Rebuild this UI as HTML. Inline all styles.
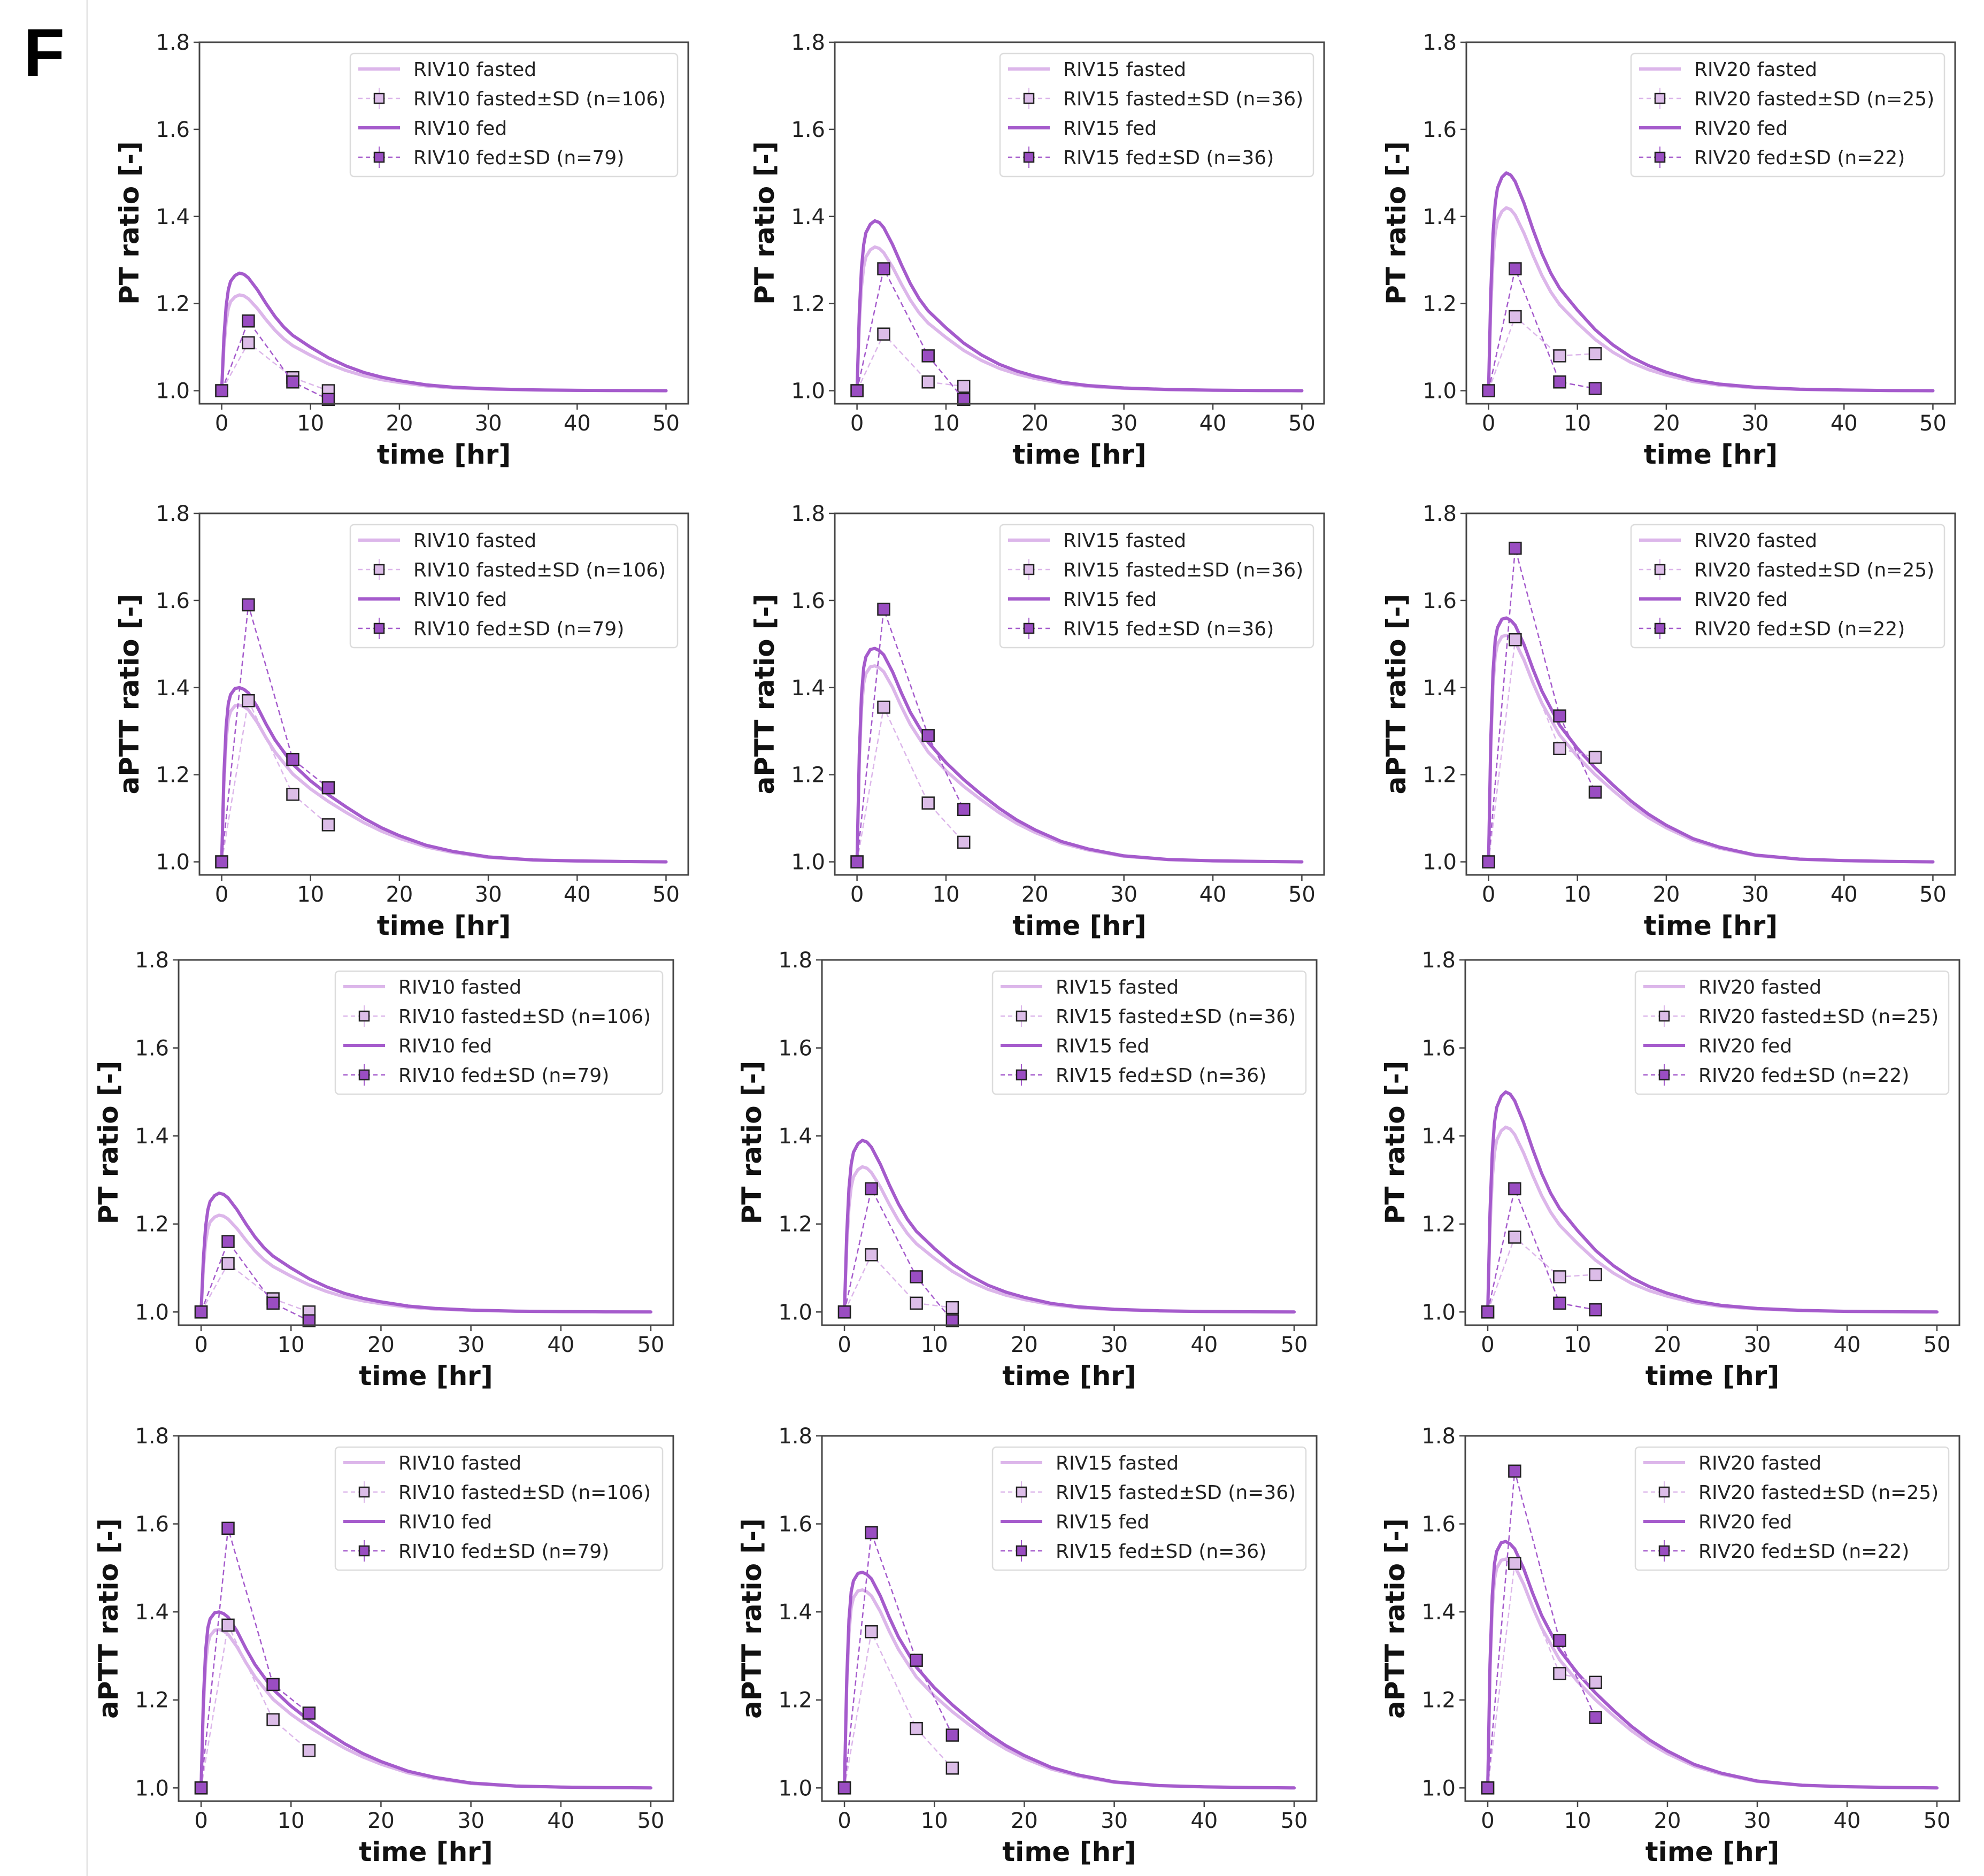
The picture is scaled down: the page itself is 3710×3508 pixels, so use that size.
<!DOCTYPE html>
<html><head><meta charset="utf-8">
<style>
html,body{margin:0;padding:0;background:#fff;}
svg{display:block;font-family:"DejaVu Sans","Liberation Sans",sans-serif;}
</style></head>
<body>
<svg id="fig" width="3710" height="3508" viewBox="0 0 3710 3508" xmlns="http://www.w3.org/2000/svg">
<rect x="0" y="0" width="3710" height="3508" fill="#fff"/>
<line x1="163" y1="0" x2="163" y2="3508" stroke="#e4e4e4" stroke-width="3"/>
<text x="44" y="142" font-size="126" font-weight="bold" fill="#000" font-family="Liberation Sans, sans-serif">F</text>
</svg>
<script>
// ---- data ----
const obsTimes = [0, 3, 8, 12];
const ptFasted10 = [1.0, 1.11, 1.03, 1.0];
const ptFed10 = [1.0, 1.16, 1.02, 0.98];
const ptFasted15 = [1.0, 1.13, 1.02, 1.01];
const ptFed15 = [1.0, 1.28, 1.08, 0.98];
const ptFasted20 = [1.0, 1.17, 1.08, 1.085];
const ptFed20 = [1.0, 1.28, 1.02, 1.005];
const apttFasted10 = [1.0, 1.37, 1.155, 1.085];
const apttFed10 = [1.0, 1.59, 1.235, 1.17];
const apttFasted15 = [1.0, 1.355, 1.135, 1.045];
const apttFed15 = [1.0, 1.58, 1.29, 1.12];
const apttFasted20 = [1.0, 1.51, 1.26, 1.24];
const apttFed20 = [1.0, 1.72, 1.335, 1.16];
const curveTimes = [0,0.25,0.5,0.75,1,1.5,2,2.5,3,4,5,6,7,8,10,12,14,16,18,20,23,26,30,35,40,45,50];
const ptShape = [0,0.45,0.72,0.86,0.93,0.98,1.0,0.99,0.96,0.86,0.74,0.63,0.54,0.47,0.37,0.28,0.21,0.155,0.115,0.085,0.05,0.03,0.016,0.007,0.003,0.001,0];
const apttShape = [0,0.5,0.78,0.91,0.96,0.995,1.0,0.99,0.97,0.89,0.79,0.70,0.63,0.56,0.465,0.385,0.315,0.25,0.195,0.15,0.095,0.06,0.028,0.011,0.005,0.002,0];
const ptPeakFasted = [1.22, 1.33, 1.42];
const ptPeakFed = [1.27, 1.39, 1.50];
const apttPeakFasted = [1.36, 1.45, 1.52];
const apttPeakFed = [1.40, 1.49, 1.56];
const doses = ["RIV10", "RIV15", "RIV20"];
const nFasted = [106, 36, 25];
const nFed = [79, 36, 22];
const xTicks = [0, 10, 20, 30, 40, 50];
const yTicks = [1.0, 1.2, 1.4, 1.6, 1.8];
const ptObs = [[ptFasted10, ptFed10], [ptFasted15, ptFed15], [ptFasted20, ptFed20]];
const apttObs = [[apttFasted10, apttFed10], [apttFasted15, apttFed15], [apttFasted20, apttFed20]];

// ---- layout ----
const NS = "http://www.w3.org/2000/svg";
const svg = document.getElementById("fig");
const rowGeom = [{top:79,h:676},{top:960,h:676},{top:1795,h:683},{top:2685,h:683}];
const colGeomA = [[373,914],[1561,915],[2742,914]];
const colGeomB = [[334,925],[1537,925],[2740,924]];
const FAST = "#dcb6ea", FED = "#a55bcc", FASTM = "#dcbde8", FEDM = "#9a4dc2";

function mk(tag, attrs, parent) {
  const e = document.createElementNS(NS, tag);
  for (const k in attrs) e.setAttribute(k, attrs[k]);
  (parent || svg).appendChild(e);
  return e;
}

for (let r = 0; r < 4; r++) {
  const isPT = (r % 2 === 0);
  const cols = r < 2 ? colGeomA : colGeomB;
  for (let c = 0; c < 3; c++) {
    const L = cols[c][0], W = cols[c][1], T = rowGeom[r].top, H = rowGeom[r].h;
    const x0 = -2.5, x1 = 52.5, y0 = 0.97, y1 = 1.8;
    const sx = v => L + (v - x0) / (x1 - x0) * W;
    const sy = v => T + H - (v - y0) / (y1 - y0) * H;
    const g = mk("g", {});
    
    

    const shape = isPT ? ptShape : apttShape;
    const peaks = isPT ? [ptPeakFasted[c], ptPeakFed[c]] : [apttPeakFasted[c], apttPeakFed[c]];
    [0, 1].forEach(k => {
      const pts = curveTimes.map((t, i) => sx(t).toFixed(1) + "," + sy(1 + (peaks[k] - 1) * shape[i]).toFixed(1)).join(" ");
      const pl = mk("polyline", {points: pts, fill: "none", stroke: k ? FED : FAST, "stroke-width": 6, "stroke-linejoin": "round", "stroke-linecap": "round"}, g);
      
      
    });
    const obs = isPT ? ptObs[c] : apttObs[c];
    [0, 1].forEach(k => {
      const vals = obs[k];
      const pts = obsTimes.map((t, i) => sx(t).toFixed(1) + "," + sy(vals[i]).toFixed(1)).join(" ");
      const pl = mk("polyline", {points: pts, fill: "none", stroke: k ? FED : FAST, "stroke-width": 2.5, "stroke-dasharray": "10,6"}, g);
      
      
      obsTimes.forEach((t, i) => {
        const m = mk("rect", {x: sx(t) - 11, y: sy(vals[i]) - 11, width: 22, height: 22, fill: k ? FEDM : FASTM, stroke: "#222", "stroke-width": 2.5}, g);
        
        
      });
    });

    const fr = mk("rect", {x: L, y: T, width: W, height: H, fill: "none", stroke: "#444", "stroke-width": 3}, g);
    
    
    xTicks.forEach(v => {
      const X = sx(v);
      mk("line", {x1: X, y1: T + H, x2: X, y2: T + H + 11, stroke: "#444", "stroke-width": 2.5}, g);
      const t = mk("text", {x: X, y: T + H + 50, "font-size": 40, "text-anchor": "middle", fill: "#222"}, g);
      t.textContent = String(v);
      
      
    });
    yTicks.forEach(v => {
      const Y = sy(v);
      mk("line", {x1: L - 11, y1: Y, x2: L, y2: Y, stroke: "#444", "stroke-width": 2.5}, g);
      const t = mk("text", {x: L - 18, y: Y + 14, "font-size": 40, "text-anchor": "end", fill: "#222"}, g);
      t.textContent = v.toFixed(1);
      
      
    });
    const xl = mk("text", {x: L + W / 2, y: T + H + 112, "font-size": 50, "font-weight": "bold", "text-anchor": "middle", fill: "#111"}, g);
    xl.textContent = "time [hr]";
    
    
    const cx = L - 132, cy = T + H / 2;
    const yl = mk("text", {x: cx, y: cy + 18, "font-size": 50, "font-weight": "bold", "text-anchor": "middle", fill: "#111", transform: "rotate(-90 " + cx + " " + (cy) + ")"}, g);
    yl.textContent = isPT ? "PT ratio [-]" : "aPTT ratio [-]";
    
    

    const LW = c === 0 ? 612 : 586, LH = 230;
    const lx = L + W - 20 - LW, ly = T + 21;
    const lg = mk("g", {}, g);
    
    
    mk("rect", {x: lx, y: ly, width: LW, height: LH, rx: 7, fill: "#fff", stroke: "#dcdcdc", "stroke-width": 2.5}, lg);
    const labels = [doses[c] + " fasted", doses[c] + " fasted\u00b1SD (n=" + nFasted[c] + ")", doses[c] + " fed", doses[c] + " fed\u00b1SD (n=" + nFed[c] + ")"];
    labels.forEach((lab, i) => {
      const ey = ly + 29 + i * 55;
      const fed = i >= 2, dashed = i % 2 === 1;
      const e = mk("g", {}, lg);
      
      
      mk("line", {x1: lx + 15, y1: ey, x2: lx + 93, y2: ey, stroke: fed ? FED : FAST, "stroke-width": dashed ? 2.5 : 6, "stroke-dasharray": dashed ? "8,6" : "none"}, e);
      if (dashed) {
        mk("line", {x1: lx + 54, y1: ey - 20, x2: lx + 54, y2: ey + 20, stroke: fed ? FED : FAST, "stroke-width": 2}, e);
        mk("rect", {x: lx + 45, y: ey - 9, width: 18, height: 18, fill: fed ? FEDM : FASTM, stroke: "#222", "stroke-width": 2.5}, e);
      }
      const t = mk("text", {x: lx + 118, y: ey + 13, "font-size": 36, fill: "#222"}, e);
      t.textContent = lab;
    });
  }
}
</script>
</body></html>
